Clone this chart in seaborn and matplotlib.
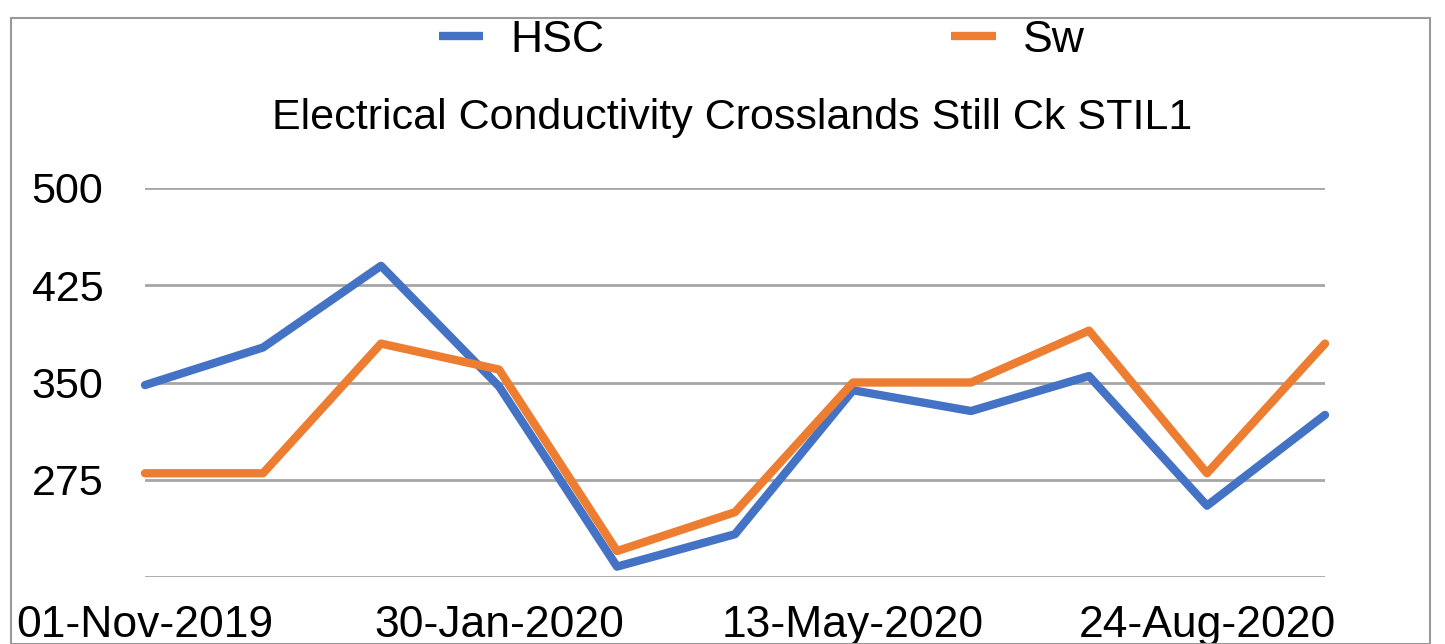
import numpy as np
import pandas as pd
import matplotlib.pyplot as plt
import seaborn as sns
from matplotlib.patches import Rectangle

# sample number along the x axis (one sample roughly every month)
sample = list(range(11))
hsc = [348, 377, 440, 347, 208, 233, 344, 328, 355, 255, 325]
sw = [280, 280, 380, 360, 220, 250, 350, 350, 390, 280, 380]
tick_pos = [0, 3, 6, 9]
tick_labels = ['01-Nov-2019', '30-Jan-2020', '13-May-2020', '24-Aug-2020']
y_ticks = [275, 350, 425, 500]

df = pd.DataFrame({'sample': sample * 2,
                   'value': hsc + sw,
                   'series': ['HSC'] * len(hsc) + ['Sw'] * len(sw)})

sns.set_style('white')
plt.rcParams['font.family'] = ['Liberation Sans', 'DejaVu Sans']
plt.rcParams['text.color'] = 'black'
plt.rcParams['xtick.color'] = 'black'
plt.rcParams['ytick.color'] = 'black'

fig = plt.figure(figsize=(14.45, 6.44), dpi=100)
ax = fig.add_axes([145 / 1445, 1 - 577 / 644, 1180 / 1445, 389 / 644])

sns.lineplot(data=df, x='sample', y='value', hue='series',
             palette={'HSC': '#4472C4', 'Sw': '#ED7D31'},
             linewidth=6, ax=ax, legend=False, clip_on=False)

ax.set_xlim(0, 10)
ax.set_ylim(200, 500)
ax.set_yticks([200] + y_ticks)
ax.set_yticklabels([''] + [str(v) for v in y_ticks])
ax.set_xticks(tick_pos)
ax.set_xticklabels(tick_labels)
ax.grid(axis='y', color='#a6a6a6', linewidth=2)
ax.set_axisbelow(True)
for s in ax.spines.values():
    s.set_visible(False)
ax.tick_params(axis='y', length=0, pad=30, labelsize=31)
ax.tick_params(axis='x', length=0, pad=20, labelsize=32)
ax.set_xlabel('')
ax.set_ylabel('')

# legend at the top
handles = [plt.Line2D([], [], color='#4472C4', lw=6, solid_capstyle='butt'),
           plt.Line2D([], [], color='#ED7D31', lw=6, solid_capstyle='butt')]
fig.legend(handles, ['HSC', 'Sw'], loc='center', bbox_to_anchor=(762 / 1445, 1 - 40 / 644),
           ncol=2, frameon=False, fontsize=32, handlelength=1.0, columnspacing=7.8,
           handletextpad=0.62)

fig.text(732 / 1445, 1 - 118 / 644, 'Electrical Conductivity Crosslands Still Ck STIL1',
         ha='center', va='center', fontsize=31)

fig.patches.append(Rectangle((11 / 1445, 0.5 / 644), 1419 / 1445, 626 / 644,
                             transform=fig.transFigure, fill=False,
                             edgecolor='#999999', linewidth=1.5))

fig.savefig('out.png', dpi=100)
